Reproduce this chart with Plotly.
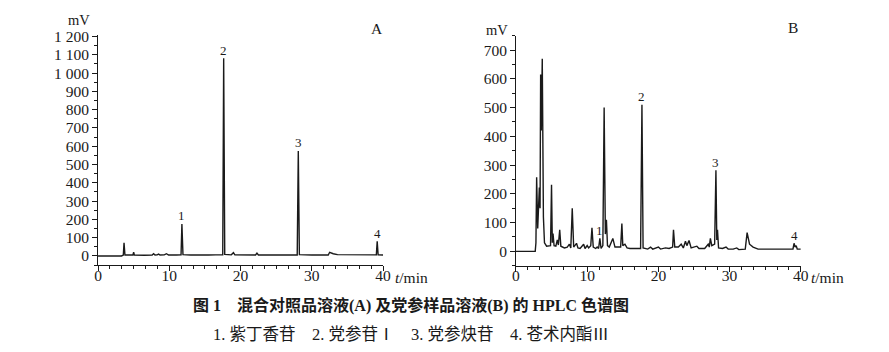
import plotly.graph_objects as go

# ---------------- data ----------------
# Panel A: mixed reference solution chromatogram (time in min, signal in mV)
time_A = [0, 3.3, 3.55, 3.65, 3.78, 4.5, 4.9, 5.0, 5.1, 6.5,
          7.6, 7.8, 8.0, 8.3, 8.5, 8.7, 9.3, 9.6, 9.9, 11.0,
          11.65, 11.77, 11.92, 13.0, 14.2, 15.5, 16.5, 17.5, 17.63, 17.78,
          18.7, 19.0, 19.2, 20.5, 22.1, 22.3, 22.5, 24.0, 26.0, 27.95,
          28.1, 28.25, 30.0, 32.3, 32.5, 33.0, 33.6, 35.0, 36.5, 38.0,
          39.05, 39.17, 39.3, 40.0]
mv_A = [0, 0, 5, 72, 5, 4, 5, 20, 5, 4,
        5, 12, 5, 6, 10, 5, 6, 12, 5, 5,
        6, 175, 7, 5, 7, 5, 6, 6, 1082, 8,
        6, 18, 6, 5, 5, 15, 5, 6, 5, 5,
        574, 7, 5, 5, 20, 12, 7, 6, 8, 5,
        6, 80, 6, 5]

# Panel B: Codonopsis sample solution chromatogram
time_B = [0, 2.7, 2.8, 2.9, 3.05, 3.15, 3.28, 3.38, 3.46, 3.55,
          3.69, 3.85, 4.0, 4.3, 4.85, 4.99, 5.1, 5.2, 5.35, 5.6,
          5.8, 5.95, 6.14, 6.3, 6.8, 7.2, 7.5, 7.7, 7.9, 8.1,
          8.5, 8.7, 9.0, 9.5, 9.7, 10.0, 10.2, 10.5, 10.67, 10.85,
          11.2, 11.4, 11.6, 11.78, 11.95, 12.2, 12.38, 12.55, 12.7, 12.85,
          13.1, 13.6, 13.9, 14.3, 14.7, 14.87, 15.0, 15.3, 15.6, 16.0,
          16.8, 17.5, 17.69, 17.85, 18.5, 18.9, 19.2, 20.0, 20.3, 21.0,
          21.5, 22.0, 22.12, 22.3, 22.8, 23.2, 23.5, 23.8, 24.0, 24.3,
          24.6, 25.4, 25.7, 26.5, 27.0, 27.15, 27.3, 27.5, 27.9, 28.08,
          28.2, 28.3, 28.45, 29.0, 29.5, 29.8, 30.5, 31.0, 31.3, 32.2,
          32.46, 32.8, 33.3, 34.0, 35.0, 37.0, 38.0, 38.9, 39.05, 39.2,
          39.35, 39.5, 40.0]
mv_B = [0, 0, 30, 258, 80, 140, 222, 150, 615, 420,
        670, 120, 30, 18, 20, 232, 30, 62, 20, 18,
        40, 22, 75, 18, 12, 15, 25, 12, 150, 15,
        28, 12, 10, 25, 10, 20, 12, 20, 82, 15,
        10, 15, 10, 45, 10, 20, 500, 60, 110, 20,
        15, 45, 15, 15, 15, 97, 20, 25, 12, 10,
        10, 10, 510, 12, 8, 15, 8, 15, 8, 12,
        10, 15, 75, 15, 15, 25, 12, 35, 20, 38,
        12, 18, 10, 10, 25, 15, 45, 20, 25, 282,
        40, 75, 12, 10, 15, 8, 8, 12, 6, 8,
        65, 25, 15, 8, 8, 8, 8, 8, 28, 15,
        20, 8, 8]

# numbered peaks
peak_labels = ["1", "2", "3", "4"]
peaks_A_t = [11.77, 17.63, 28.1, 39.17]
peaks_A_mv = [175, 1082, 574, 80]
peaks_B_t = [11.78, 17.69, 28.08, 39.1]
peaks_B_mv = [45, 510, 282, 28]

# tick labels
x_ticks = [0, 10, 20, 30, 40]
y_ticks_A = [0, 100, 200, 300, 400, 500, 600, 700, 800, 900, 1000, 1100, 1200]
y_text_A = ["0", "100", "200", "300", "400", "500", "600", "700", "800", "900",
            "1 000", "1 100", "1 200"]
y_ticks_B = [0, 100, 200, 300, 400, 500, 600, 700]

title_text = "<b>图 1　混合对照品溶液(A) 及党参样品溶液(B) 的 HPLC 色谱图</b>"
legend_text = "1. 紫丁香苷　2. 党参苷Ⅰ　3. 党参炔苷　4. 苍术内酯Ⅲ"

# ---------------- figure ----------------
W, H = 889, 352
FONT = "Liberation Serif, Noto Sans CJK SC"
INK = "#1a1a1a"

fig = go.Figure()
fig.add_trace(go.Scatter(x=time_A, y=mv_A, mode="lines", xaxis="x", yaxis="y",
                         line=dict(color=INK, width=1.4), hoverinfo="skip",
                         showlegend=False))
fig.add_trace(go.Scatter(x=time_B, y=mv_B, mode="lines", xaxis="x2", yaxis="y2",
                         line=dict(color=INK, width=1.4), hoverinfo="skip",
                         showlegend=False))

def px_x(p):
    return p / W

def px_y(p):
    return 1 - p / H

tickfont = dict(family=FONT, size=15.5, color=INK)

common_x = dict(range=[0, 40], tickvals=x_ticks, ticks="outside", ticklen=5,
                tickwidth=1, tickcolor=INK, showline=True, linecolor=INK,
                linewidth=1, showgrid=False, zeroline=False, tickfont=tickfont,
                ticklabelstandoff=-9,
                minor=dict(dtick=10 / 6, tick0=0, ticks="outside", ticklen=3,
                           tickcolor=INK, tickwidth=1, showgrid=False))
common_y = dict(ticks="outside", ticklen=5, tickwidth=1, tickcolor=INK,
                showline=True, linecolor=INK, linewidth=1, showgrid=False,
                zeroline=False, tickfont=tickfont)

fig.update_layout(
    width=W, height=H,
    margin=dict(l=0, r=0, t=0, b=0),
    paper_bgcolor="white", plot_bgcolor="white",
    xaxis=dict(domain=[px_x(95.3), px_x(384.3)], anchor="y", **common_x),
    yaxis=dict(domain=[px_y(263.3), px_y(28.3)], anchor="x", range=[-50, 1210],
               tickvals=y_ticks_A, ticktext=y_text_A,
               minor=dict(dtick=50, tick0=0, ticks="outside", ticklen=3,
                          tickcolor=INK, tickwidth=1, showgrid=False),
               **common_y),
    xaxis2=dict(domain=[px_x(519), px_x(807.7)], anchor="y2", **common_x),
    yaxis2=dict(domain=[px_y(264), px_y(29.3)], anchor="x2", range=[-50, 750],
                tickvals=y_ticks_B,
                minor=dict(dtick=50, tick0=0, ticks="outside", ticklen=3,
                           tickcolor=INK, tickwidth=1, showgrid=False),
                **common_y),
)

ann = []
# peak numbers
for lab, t, v in zip(peak_labels, peaks_A_t, peaks_A_mv):
    ann.append(dict(x=t, y=v, xref="x", yref="y", text=lab, showarrow=False,
                    yanchor="middle", yshift=8,
                    font=dict(family=FONT, size=13, color=INK)))
for lab, t, v in zip(peak_labels, peaks_B_t, peaks_B_mv):
    ann.append(dict(x=t, y=v, xref="x2", yref="y2", text=lab, showarrow=False,
                    yanchor="middle", yshift=8,
                    font=dict(family=FONT, size=13, color=INK)))

# units, panel letters, axis titles
def paper_text(x, y, text, size=15.5, xanchor="center"):
    ann.append(dict(x=px_x(x), y=px_y(y), xref="paper", yref="paper",
                    text=text, showarrow=False, xanchor=xanchor,
                    yanchor="middle", borderpad=0,
                    font=dict(family=FONT, size=size, color=INK)))

paper_text(76, 13, "mV", size=14.5)
paper_text(500, 23, "mV", size=14.5)
paper_text(378, 22, "A")
paper_text(800, 21, "B")
paper_text(395, 276, "<i>t</i>/min", xanchor="left")
paper_text(817, 276, "<i>t</i>/min", xanchor="left")
paper_text(413, 305, title_text, size=16)
paper_text(413, 334, legend_text, size=16.5)

fig.update_layout(annotations=ann)
fig.write_html("out.html")
